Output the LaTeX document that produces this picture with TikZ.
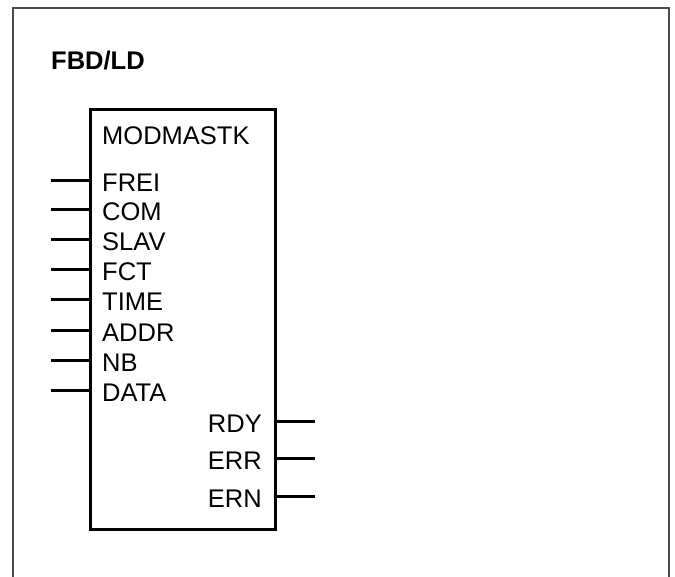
\documentclass[tikz,border=0pt]{standalone}
\usepackage{fontspec}
\setmainfont{Liberation Sans}
\begin{document}
\begin{tikzpicture}[x=1pt,y=-1pt,
  frame/.style={draw=black!70,line width=1.3pt},
  blk/.style={draw=black,line width=3pt,inner sep=0pt},
  pin/.style={draw=black,line width=3pt},
  lbl/.style={font=\fontsize{25.5}{28}\selectfont,inner sep=0pt},
  ttl/.style={font=\bfseries\fontsize{25.5}{28}\selectfont,inner sep=0pt}]
\useasboundingbox (0,0) rectangle (675,577);
\draw[frame] (13,577) -- (13,8) -- (669,8) -- (669,577);
\node[ttl,anchor=west] (title) at (51,61) {FBD/LD};
\node[blk,minimum width=185pt,minimum height=420pt,anchor=north west] (block) at (89,108) {};
\node[lbl,anchor=west] (name) at (102,136) {MODMASTK};
\foreach \t/\y in {FREI/181,COM/210,SLAV/240,FCT/270,TIME/300,ADDR/331,NB/361,DATA/391}{
  \coordinate (i\t) at (51,\y);
  \node[lbl,anchor=west] (l\t) at (102,\y+1.5) {\t};
  \draw[pin] (i\t) -- (i\t -| block.west);
}
\foreach \t/\y in {RDY/421,ERR/458,ERN/496}{
  \coordinate (o\t) at (315,\y);
  \node[lbl,anchor=east] (l\t) at (262,\y+3) {\t};
  \draw[pin] (o\t -| block.east) -- (o\t);
}
\end{tikzpicture}
\end{document}
